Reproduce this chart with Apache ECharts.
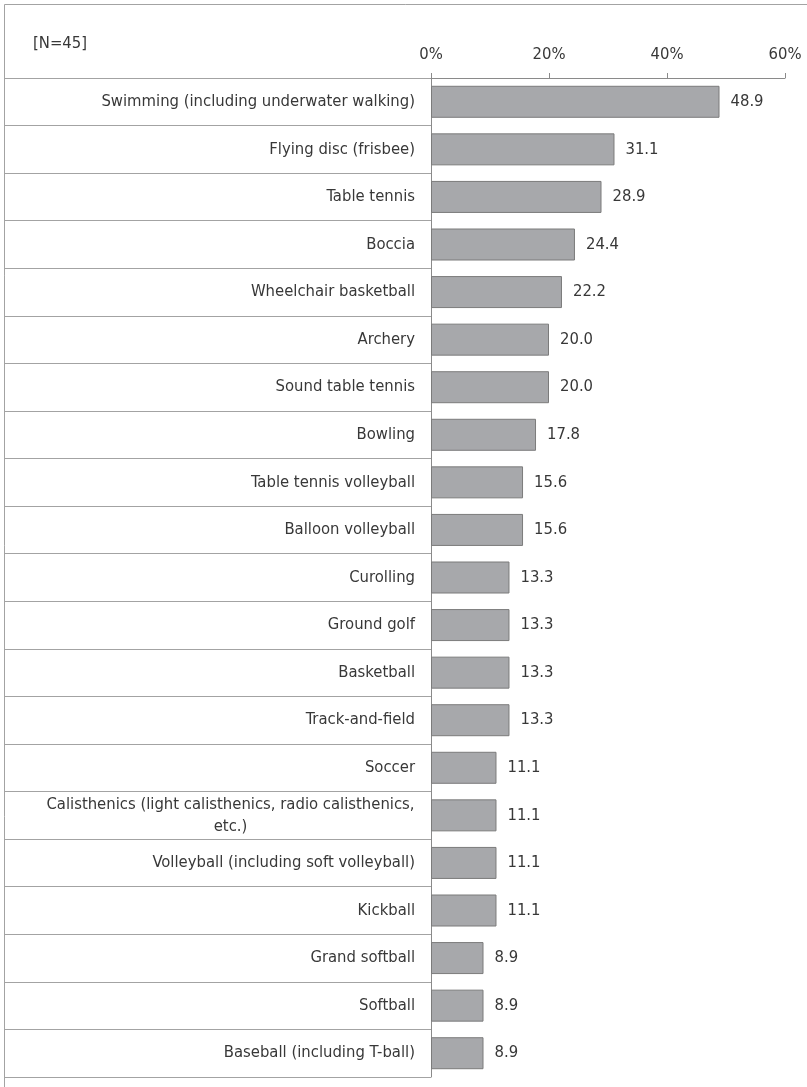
<!DOCTYPE html>
<html>
<head>
<meta charset="utf-8">
<script src="https://cdn.jsdelivr.net/npm/echarts@6/dist/echarts.min.js"></script>
<style>
  html, body { margin: 0; padding: 0; background: #fff; }
  #chart { width: 807px; height: 1087px; }
</style>
</head>
<body>
<div id="chart"></div>
<script>
// 数据
var categories = [
    'Swimming (including underwater walking)',
    'Flying disc (frisbee)',
    'Table tennis',
    'Boccia',
    'Wheelchair basketball',
    'Archery',
    'Sound table tennis',
    'Bowling',
    'Table tennis volleyball',
    'Balloon volleyball',
    'Curolling',
    'Ground golf',
    'Basketball',
    'Track-and-field',
    'Soccer',
    'Calisthenics (light calisthenics, radio calisthenics,\netc.)',
    'Volleyball (including soft volleyball)',
    'Kickball',
    'Grand softball',
    'Softball',
    'Baseball (including T-ball)'
];
var values = [48.9, 31.1, 28.9, 24.4, 22.2, 20.0, 20.0, 17.8, 15.6, 15.6,
              13.3, 13.3, 13.3, 13.3, 11.1, 11.1, 11.1, 11.1, 8.9, 8.9, 8.9];
var xTicks = [0, 20, 40, 60];
var sampleNote = '[N=45]';

var font = "'Liberation Sans Narrow', 'Arial Narrow', 'DejaVu Sans Condensed', sans-serif";
var fontSize = 16.5;
var textColor = '#383838';
var lineColor = '#a3a3a3';

// 两行标签：量出最长一行的宽度，让第二行居中
var ctx = document.createElement('canvas').getContext('2d');
ctx.font = fontSize + 'px ' + font;
var wrapWidth = 0;
categories.forEach(function (c) {
    if (c.indexOf('\n') >= 0) {
        c.split('\n').forEach(function (s) {
            wrapWidth = Math.max(wrapWidth, Math.ceil(ctx.measureText(s).width));
        });
    }
});

var myChart = echarts.init(document.getElementById('chart'));

var option = {
    animation: false,
    backgroundColor: '#fff',
    grid: [
        // 条形区域
        { left: 431, top: 78, width: 354, height: 999 },
        // 左侧标签表格
        { left: 4, top: 78, width: 427, height: 999 }
    ],
    xAxis: [
        {
            gridIndex: 0,
            type: 'value',
            position: 'top',
            min: xTicks[0],
            max: xTicks[xTicks.length - 1],
            interval: 20,
            axisLine: { show: true, lineStyle: { color: '#8a8a8a', width: 1 } },
            axisTick: { show: true, inside: false, length: 5, lineStyle: { color: '#8a8a8a' } },
            splitLine: { show: false },
            axisLabel: {
                formatter: '{value}%',
                margin: 15,
                color: textColor,
                fontSize: fontSize,
                fontFamily: font
            }
        },
        {
            gridIndex: 1,
            type: 'value',
            show: false
        }
    ],
    yAxis: [
        {
            gridIndex: 0,
            type: 'category',
            inverse: true,
            data: categories,
            axisLine: { show: true, lineStyle: { color: '#8a8a8a', width: 1 } },
            axisTick: { show: false },
            splitLine: { show: false },
            axisLabel: {
                margin: 16,
                color: textColor,
                fontSize: fontSize,
                fontFamily: font,
                lineHeight: 22,
                formatter: function (v) {
                    if (v.indexOf('\n') < 0) return v;
                    return v.split('\n').map(function (s) { return '{c|' + s + '}'; }).join('\n');
                },
                rich: {
                    c: {
                        width: wrapWidth,
                        align: 'center',
                        fontSize: fontSize,
                        fontFamily: font,
                        color: textColor,
                        lineHeight: 22
                    }
                }
            }
        },
        {
            gridIndex: 1,
            type: 'category',
            inverse: true,
            data: categories,
            axisLine: { show: false },
            axisTick: { show: false },
            axisLabel: { show: false },
            splitLine: { show: true, interval: 0, lineStyle: { color: lineColor, width: 1 } }
        }
    ],
    series: [
        {
            type: 'bar',
            xAxisIndex: 0,
            yAxisIndex: 0,
            data: values,
            barWidth: 32,
            itemStyle: {
                color: '#a7a8ab',
                borderColor: '#7b7b7b',
                borderWidth: 1
            },
            label: {
                show: true,
                position: 'right',
                distance: 11,
                color: textColor,
                fontSize: fontSize,
                fontFamily: font,
                formatter: function (p) { return p.value.toFixed(1); }
            }
        }
    ],
    graphic: [
        // 外框
        { type: 'line', shape: { x1: 4.5, y1: 4.5, x2: 807, y2: 4.5 }, style: { stroke: lineColor, lineWidth: 1 } },
        { type: 'line', shape: { x1: 4.5, y1: 4.5, x2: 4.5, y2: 1087 }, style: { stroke: lineColor, lineWidth: 1 } },
        {
            type: 'text',
            left: 33,
            top: 35,
            style: { text: sampleNote, fill: textColor, fontSize: fontSize, fontFamily: font }
        }
    ]
};

myChart.setOption(option);
</script>
</body>
</html>
